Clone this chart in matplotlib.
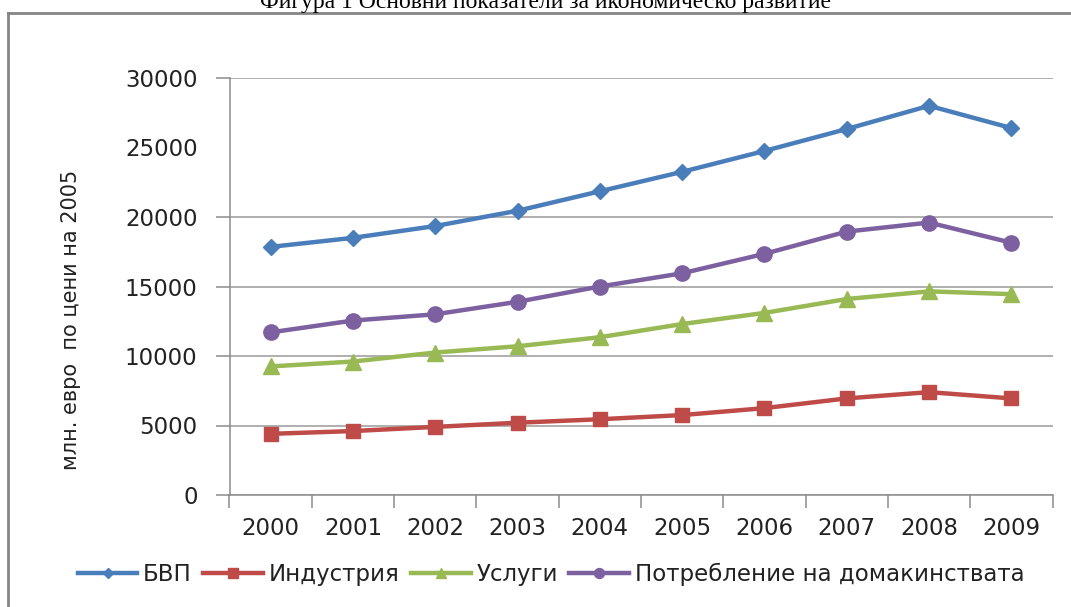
import matplotlib.pyplot as plt
from matplotlib.lines import Line2D

years = ["2000", "2001", "2002", "2003", "2004", "2005", "2006", "2007", "2008", "2009"]
gdp = [17850, 18500, 19350, 20450, 21850, 23250, 24750, 26330, 28000, 26400]
industry = [4400, 4600, 4900, 5200, 5450, 5750, 6250, 6950, 7400, 6950]
services = [9250, 9600, 10250, 10700, 11350, 12300, 13100, 14100, 14650, 14450]
consumption = [11700, 12550, 13000, 13900, 15000, 15950, 17350, 18950, 19600, 18150]

series_names = ["БВП", "Индустрия", "Услуги", "Потребление на домакинствата"]
yticks = [0, 5000, 10000, 15000, 20000, 25000, 30000]

W, H = 1071, 607
fig = plt.figure(figsize=(W / 100, H / 100), dpi=100)
ax = fig.add_axes([229.5 / W, 1 - 495 / H, 823 / W, 417 / H])

x = list(range(len(years)))
styles = [
    (gdp, "#4A7EBB", "D", 8),
    (industry, "#BE4B48", "s", 10.5),
    (services, "#98B954", "^", 11),
    (consumption, "#7D60A0", "o", 11),
]
for (vals, col, mk, ms), name in zip(styles, series_names):
    ax.plot(x, vals, color=col, lw=3.2, marker=mk, ms=ms, mec=col, mfc=col,
            label=name, zorder=3)

ax.set_xlim(-0.5, len(years) - 0.5)
ax.set_ylim(0, 30000)

# category labels in the middle, tick marks on the boundaries
ax.set_xticks(x)
ax.set_xticklabels(years)
ax.set_xticks([i - 0.5 for i in range(len(years) + 1)], minor=True)
ax.tick_params(axis="x", which="major", length=0, pad=16, labelsize=16.5,
               labelcolor="#222222")
ax.tick_params(axis="x", which="minor", length=9, width=1.1, color="#8c8c8c",
               direction="out")

ax.set_yticks(yticks)
ax.tick_params(axis="y", length=10, width=1.1, color="#8c8c8c", pad=13,
               labelsize=16.5, labelcolor="#222222")
ax.yaxis.grid(True, color="#9a9a9a", lw=1.1)
ax.set_axisbelow(True)
for val, tick in zip(ax.get_yticks(), ax.yaxis.get_major_ticks()):
    if val == 25000:
        tick.tick1line.set_visible(False)
        tick.gridline.set_visible(False)

for side in ["top", "right"]:
    ax.spines[side].set_visible(False)
for side in ["left", "bottom"]:
    ax.spines[side].set_color("#8c8c8c")
    ax.spines[side].set_linewidth(1.1)

ax.set_ylabel("млн. евро  по цени на 2005", fontsize=15, color="#222222")
ax.yaxis.set_label_coords(-(229.5 - 81) / 823, 0.5 + (495 - 320 - 208.5) / 417)

fig.legend(loc="center", bbox_to_anchor=(551 / W, 1 - 574 / H), ncol=4,
           frameon=False, fontsize=16.5, handlelength=2.6, handletextpad=0.25,
           columnspacing=0.5, markerscale=0.65, labelcolor="#222222")

fig.text(546 / W, 1 - 8 / H,
         "Фигура 1 Основни показатели за икономическо развитие",
         ha="center", va="baseline", fontsize=17, family="Liberation Serif")

border = "#858585"
fig.add_artist(Line2D([8 / W, 1.01], [1 - 12.7 / H, 1 - 12.7 / H],
                      transform=fig.transFigure, color=border, lw=2))
fig.add_artist(Line2D([8 / W, 8 / W], [-0.01, 1 - 12.7 / H],
                      transform=fig.transFigure, color=border, lw=2))

fig.savefig("out.png", dpi=100)
